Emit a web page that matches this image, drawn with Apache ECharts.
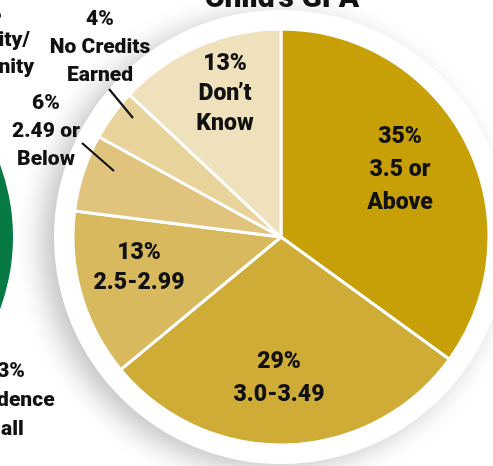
<!DOCTYPE html>
<html>
<head>
<meta charset="utf-8">
<script src="https://cdn.jsdelivr.net/npm/echarts@6/dist/echarts.min.js"></script>
<style>
  html, body { margin: 0; padding: 0; background: #fff; }
  #chart { width: 493px; height: 466px; }
</style>
</head>
<body>
<div id="chart"></div>
<script>
// Child's GPA (share of parents answering)
var categories = ['3.5 or\nAbove', '3.0-3.49', '2.5-2.99', '2.49 or\nBelow', 'No Credits\nEarned', 'Don\u2019t\nKnow']
var shares = [35, 29, 13, 6, 4, 13]

// neighbouring chart, mostly cut off at the left edge
var leftCategories = ['Residence Hall']
var leftShares = [63]

var sliceColors = ['#C6A006', '#CFAC36', '#D8B95D', '#E0C47E', '#E8D39A', '#F0E1BD']
var font = 'Roboto, "Liberation Sans", sans-serif'

// label centre x, y, line height, font size
var labelSpots = [[400, 170, 33, 23], [279, 379, 33, 23], [139, 268, 30, 23], [46, 132, 28, 21], [100, 48, 28, 21], [225, 94, 30, 23]]
var leaderLines = { 3: [[114, 171], [82, 143]], 4: [[133, 118], [109, 89]] }

var myChart = echarts.init(document.getElementById('chart'), null, { renderer: 'canvas' })

var pieBase = {
  type: 'pie',
  silent: true,
  center: [281, 237],
  radius: 208,
  startAngle: 90,
  clockwise: true,
  avoidLabelOverlap: false
}

// slices
var sliceSeries = Object.assign({}, pieBase, {
  name: 'Child\u2019s GPA',
  z: 2,
  itemStyle: { borderColor: '#fff', borderWidth: 3 },
  label: { show: false },
  labelLine: { show: false },
  data: categories.map(function(name, i) {
    return { name: name, value: shares[i], itemStyle: { color: sliceColors[i] } }
  })
})

// same slices, see-through, carrying the labels and leader lines on top
var labelSeries = Object.assign({}, pieBase, {
  name: 'labels',
  z: 4,
  itemStyle: { color: 'rgba(0,0,0,0)', borderWidth: 0 },
  label: {
    formatter: '{c}%\n{b}',
    color: '#111',
    fontWeight: 900,
    fontFamily: font,
    align: 'center'
  },
  labelLine: {
    showAbove: true,
    lineStyle: { color: '#111', width: 2.2 }
  },
  labelLayout: function(p) {
    var s = labelSpots[p.dataIndex]
    var out = { x: s[0], y: s[1], align: 'center', verticalAlign: 'middle' }
    if (leaderLines[p.dataIndex]) out.labelLinePoints = leaderLines[p.dataIndex]
    return out
  },
  data: categories.map(function(name, i) {
    var outside = !!leaderLines[i]
    return {
      name: name,
      value: shares[i],
      label: { position: outside ? 'outside' : 'inside', lineHeight: labelSpots[i][2], fontSize: labelSpots[i][3] },
      labelLine: { show: outside }
    }
  })
})

var option = {
  backgroundColor: '#fff',
  animation: false,
  graphic: [
    {
      type: 'circle',
      z: 0,
      shape: { cx: 281, cy: 237, r: 227 },
      style: { fill: '#fff', shadowBlur: 28, shadowColor: 'rgba(0,0,0,0.24)', shadowOffsetX: -12, shadowOffsetY: 6 }
    },
    {
      type: 'text',
      z: 10,
      x: 282,
      y: -1,
      style: { text: 'Child\u2019s GPA', align: 'center', verticalAlign: 'middle', fontSize: 30, fontWeight: 900, fontFamily: font, fill: '#111' }
    },
    {
      type: 'text',
      z: 10,
      x: -12,
      y: 41,
      style: { text: '2%\nSorority/\nFraternity', align: 'center', verticalAlign: 'middle', lineHeight: 27, fontSize: 21, fontWeight: 900, fontFamily: font, fill: '#111' }
    },
    {
      type: 'text',
      z: 10,
      x: 5,
      y: 401,
      style: { text: '63%\nResidence\nHall', align: 'center', verticalAlign: 'middle', lineHeight: 29, fontSize: 21, fontWeight: 900, fontFamily: font, fill: '#111' }
    }
  ],
  series: [
    {
      name: 'Where child lives',
      type: 'pie',
      silent: true,
      center: [-195, 237],
      radius: 208,
      startAngle: 90,
      label: { show: false },
      labelLine: { show: false },
      itemStyle: { color: '#067A42' },
      data: leftCategories.map(function(name, i) { return { name: name, value: leftShares[i] } })
    },
    sliceSeries,
    labelSeries
  ]
}

myChart.setOption(option)
</script>
</body>
</html>
